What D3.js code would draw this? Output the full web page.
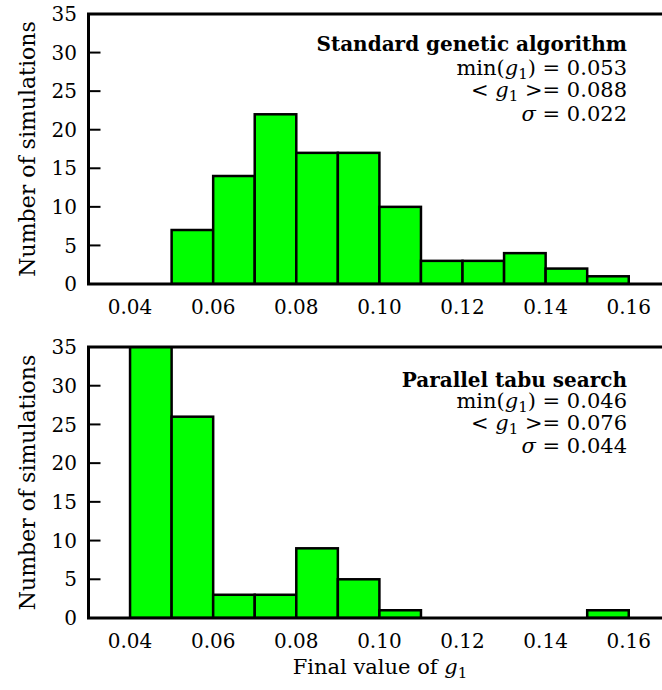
<!DOCTYPE html>
<html>
<head>
<meta charset="utf-8">
<script src="https://cdn.jsdelivr.net/npm/d3@7"></script>
<style>
  html, body { margin: 0; padding: 0; background: #fff; }
  svg { display: block; }
  text { font-family: "DejaVu Serif", serif; fill: #000; }
</style>
</head>
<body>
<svg id="chart" width="662" height="690"></svg>
<script>
// Histogram bins: lower edge of each 0.01-wide bin
const binStarts = [0.04, 0.05, 0.06, 0.07, 0.08, 0.09, 0.10, 0.11, 0.12, 0.13, 0.14, 0.15];
// Counts per bin for each method
const gaCounts   = [0, 7, 14, 22, 17, 17, 10, 3, 3, 4, 2, 1];
const tabuCounts = [52, 26, 3, 3, 9, 5, 1, 0, 0, 0, 0, 1];
const binWidth = 0.01;

const xTicks = [0.04, 0.06, 0.08, 0.10, 0.12, 0.14, 0.16];
const yTicks = [0, 5, 10, 15, 20, 25, 30, 35];

const gaTitle = "Standard genetic algorithm";
const gaStats = { min: "0.053", mean: "0.088", sigma: "0.022" };
const tabuTitle = "Parallel tabu search";
const tabuStats = { min: "0.046", mean: "0.076", sigma: "0.044" };

const svg = d3.select("#chart");
const left = 88.5, right = 662;
const x = d3.scaleLinear().domain([0.03, 0.168]).range([left, right]);

function subG(sel, size) {
  sel.append("tspan").attr("font-style", "italic").text("g");
  sel.append("tspan").attr("font-size", size).attr("dy", 4).text("1");
}

function panel(id, counts, top, bottom, title, stats, lines) {
  const y = d3.scaleLinear().domain([0, 35]).range([bottom, top]);
  const g = svg.append("g");

  g.append("clipPath").attr("id", id)
    .append("rect").attr("x", left).attr("y", top)
    .attr("width", right - left).attr("height", bottom - top);

  const bins = binStarts.map((b, i) => ({ b, v: counts[i] }));
  g.append("g").attr("clip-path", `url(#${id})`)
    .selectAll("rect").data(bins).join("rect")
    .attr("x", d => x(d.b))
    .attr("width", d => x(d.b + binWidth) - x(d.b))
    .attr("y", d => y(Math.min(d.v, 36)))
    .attr("height", d => y(0) - y(Math.min(d.v, 36)))
    .attr("fill", "#00ff00")
    .attr("stroke", "#000")
    .attr("stroke-width", 2.5);

  // frame: top, left and bottom edges
  g.append("path")
    .attr("d", `M${right},${top}H${left}V${bottom}H${right}`)
    .attr("fill", "none").attr("stroke", "#000")
    .attr("stroke-width", 3).attr("stroke-linecap", "square");

  // inward y ticks
  g.append("g").selectAll("line").data(yTicks.slice(1, -1)).join("line")
    .attr("x1", left).attr("x2", left + 12)
    .attr("y1", d => y(d)).attr("y2", d => y(d))
    .attr("stroke", "#000").attr("stroke-width", 2);

  g.append("g").selectAll("text").data(yTicks).join("text")
    .attr("x", 77).attr("y", d => y(d)).attr("dy", "0.36em")
    .attr("text-anchor", "end").attr("font-size", 20)
    .text(d => d);

  g.append("g").selectAll("text").data(xTicks).join("text")
    .attr("x", d => x(d)).attr("y", bottom + 30)
    .attr("text-anchor", "middle").attr("font-size", 20)
    .text(d => d.toFixed(2));

  g.append("text")
    .attr("transform", `translate(35,${(top + bottom) / 2}) rotate(-90)`)
    .attr("text-anchor", "middle").attr("font-size", 22)
    .text("Number of simulations");

  // statistics annotation
  const ax = 627;
  g.append("text").attr("x", ax).attr("y", lines[0])
    .attr("text-anchor", "end").attr("font-size", 20).attr("font-weight", "bold")
    .text(title);

  const t1 = g.append("text").attr("x", ax).attr("y", lines[1])
    .attr("text-anchor", "end").attr("font-size", 21);
  t1.append("tspan").text("min(");
  subG(t1, 15);
  t1.append("tspan").attr("dy", -4).text(") = " + stats.min);

  const t2 = g.append("text").attr("x", ax).attr("y", lines[2])
    .attr("text-anchor", "end").attr("font-size", 21);
  t2.append("tspan").text("< ");
  subG(t2, 15);
  t2.append("tspan").attr("dy", -4).text(" >= " + stats.mean);

  const t3 = g.append("text").attr("x", ax).attr("y", lines[3])
    .attr("text-anchor", "end").attr("font-size", 21);
  t3.append("tspan").attr("font-style", "italic").text("σ");
  t3.append("tspan").text(" = " + stats.sigma);
}

panel("clipTop", gaCounts, 14, 284, gaTitle, gaStats, [51, 75, 97, 121]);
panel("clipBottom", tabuCounts, 347, 618, tabuTitle, tabuStats, [387, 408, 430, 453]);

// shared x-axis title
const xl = svg.append("text").attr("x", 380).attr("y", 674)
  .attr("text-anchor", "middle").attr("font-size", 21);
xl.append("tspan").text("Final value of ");
subG(xl, 15);
</script>
</body>
</html>
